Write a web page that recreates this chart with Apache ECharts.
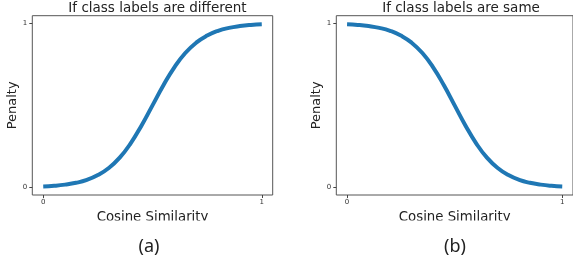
<!DOCTYPE html>
<html>
<head>
<meta charset="utf-8">
<script src="https://cdn.jsdelivr.net/npm/echarts@6/dist/echarts.min.js"></script>
<style>
  html, body { margin: 0; padding: 0; background: #fff; }
  #chart { width: 573px; height: 262px; }
</style>
</head>
<body>
<div id="chart"></div>
<script>
// 数据
var cosSim = [0, 0.05, 0.1, 0.15, 0.2, 0.25, 0.3, 0.35, 0.4, 0.45, 0.5,
              0.55, 0.6, 0.65, 0.7, 0.75, 0.8, 0.85, 0.9, 0.95, 1];
// 类别不同时的惩罚
var penaltyDiff = [0.007, 0.011, 0.018, 0.029, 0.047, 0.076, 0.119, 0.182, 0.269, 0.378, 0.5,
                   0.622, 0.731, 0.818, 0.881, 0.924, 0.953, 0.971, 0.982, 0.989, 0.993];
// 类别相同时的惩罚
var penaltySame = [0.993, 0.989, 0.982, 0.971, 0.953, 0.924, 0.881, 0.818, 0.731, 0.622, 0.5,
                   0.378, 0.269, 0.182, 0.119, 0.076, 0.047, 0.029, 0.018, 0.011, 0.007];
var tickValues = [0, 1];
var titles = ['If class labels are different', 'If class labels are same'];
var subLabels = ['(a)', '(b)'];

var chart = echarts.init(document.getElementById('chart'));

var font = 'DejaVu Sans';
var lineColor = '#1f77b4';

function pairs(xs, ys) {
    return xs.map(function (x, i) { return [x, ys[i]]; });
}

function makeX(idx) {
    return {
        type: 'value', gridIndex: idx, min: -0.05, max: 1.05,
        name: 'Cosine Similarity', nameLocation: 'middle', nameGap: 12,
        nameTextStyle: { fontFamily: font, fontSize: 13.3, color: '#222' },
        axisLine: { show: false, onZero: false },
        axisTick: { show: true, customValues: tickValues, length: 3, lineStyle: { color: '#444' } },
        axisLabel: { customValues: tickValues, fontFamily: font, fontSize: 7, color: '#333', margin: 4 },
        splitLine: { show: false }
    };
}

function makeY(idx) {
    return {
        type: 'value', gridIndex: idx, min: -0.045, max: 1.045,
        name: 'Penalty', nameLocation: 'middle', nameGap: 6,
        nameTextStyle: { fontFamily: font, fontSize: 13, color: '#222' },
        axisLine: { show: false, onZero: false },
        axisTick: { show: true, customValues: tickValues, length: 3, lineStyle: { color: '#444' } },
        axisLabel: { customValues: tickValues, fontFamily: font, fontSize: 7, color: '#333', margin: 5 },
        splitLine: { show: false }
    };
}

var option = {
    animation: false,
    backgroundColor: '#fff',
    title: [
        { text: titles[0], left: 152.5, top: -4, textAlign: 'center',
          textStyle: { fontFamily: font, fontSize: 13.5, fontWeight: 'normal', color: '#222' } },
        { text: titles[1], left: 456, top: -4, textAlign: 'center',
          textStyle: { fontFamily: font, fontSize: 13.5, fontWeight: 'normal', color: '#222' } },
        { text: subLabels[0], left: 144, top: 233, textAlign: 'center',
          textStyle: { fontFamily: 'Noto Sans', fontSize: 18, fontWeight: 'normal', color: '#222' } },
        { text: subLabels[1], left: 450, top: 233, textAlign: 'center',
          textStyle: { fontFamily: 'Noto Sans', fontSize: 18, fontWeight: 'normal', color: '#222' } }
    ],
    grid: [
        { left: 32.3, top: 15.7, width: 240.4, height: 179.3, show: true,
          borderColor: '#555', borderWidth: 1, backgroundColor: 'transparent' },
        { left: 336.3, top: 15.7, width: 240, height: 179.3, show: true,
          borderColor: '#555', borderWidth: 1, backgroundColor: 'transparent' }
    ],
    xAxis: [makeX(0), makeX(1)],
    yAxis: [makeY(0), makeY(1)],
    series: [
        { type: 'line', xAxisIndex: 0, yAxisIndex: 0, data: pairs(cosSim, penaltyDiff),
          showSymbol: false, smooth: true,
          lineStyle: { color: lineColor, width: 4 } },
        { type: 'line', xAxisIndex: 1, yAxisIndex: 1, data: pairs(cosSim, penaltySame),
          showSymbol: false, smooth: true,
          lineStyle: { color: lineColor, width: 4 } }
    ],
    // 原图里x轴标题下沿被裁掉了一截
    graphic: [
        { type: 'rect', left: 60, top: 220.5, z: 100,
          shape: { width: 460, height: 8 }, style: { fill: '#fff' } }
    ]
};

chart.setOption(option);
</script>
</body>
</html>
